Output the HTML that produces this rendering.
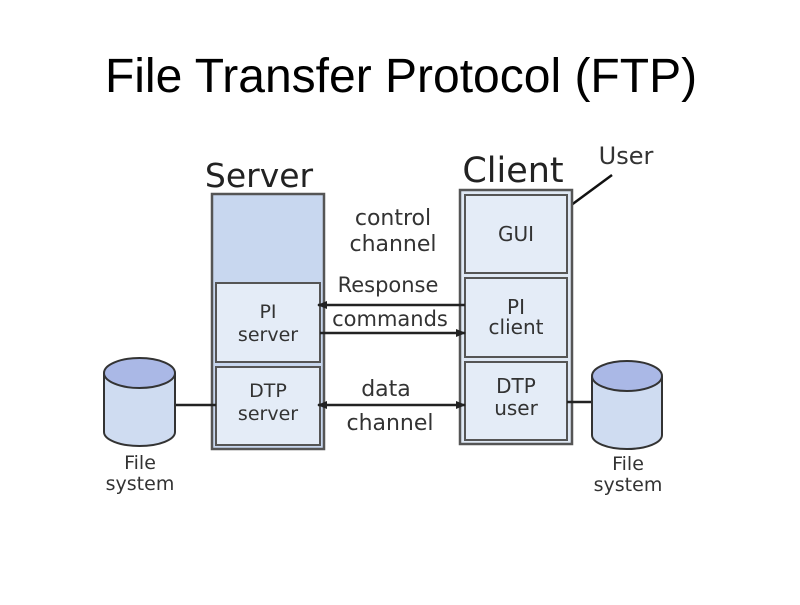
<!DOCTYPE html>
<html><head><meta charset="utf-8"><style>
body{margin:0;background:#fff;width:800px;height:600px;overflow:hidden}
</style></head><body>
<svg width="800" height="600" xmlns="http://www.w3.org/2000/svg" font-family="'DejaVu Sans','Liberation Sans',sans-serif">
<defs>
<marker id="a" markerWidth="10" markerHeight="8" refX="9" refY="4" orient="auto" markerUnits="userSpaceOnUse"><path d="M0,0 L10,4 L0,8 Z" fill="#222"/></marker>
<marker id="b" markerWidth="10" markerHeight="8" refX="1" refY="4" orient="auto" markerUnits="userSpaceOnUse"><path d="M10,0 L0,4 L10,8 Z" fill="#222"/></marker>
</defs>
<text x="401" y="92" text-anchor="middle" font-family="'Liberation Sans',sans-serif" font-size="48" fill="#000">File Transfer Protocol (FTP)</text>
<text x="259" y="187" text-anchor="middle" font-size="33" fill="#222">Server</text>
<text x="513" y="182" text-anchor="middle" font-size="35" fill="#222">Client</text>
<text x="626" y="164" text-anchor="middle" font-size="24" fill="#333">User</text>
<line x1="555" y1="217" x2="612" y2="175" stroke="#111" stroke-width="2.5"/>
<rect x="212" y="194" width="112" height="255" fill="#c8d7ef" stroke="#555" stroke-width="2.5"/>
<rect x="216" y="283" width="104" height="79" fill="#e4ecf7" stroke="#555" stroke-width="2"/>
<rect x="216" y="367" width="104" height="78" fill="#e4ecf7" stroke="#555" stroke-width="2"/>
<text x="268" y="318" text-anchor="middle" font-size="19" fill="#333">PI</text>
<text x="268" y="341" text-anchor="middle" font-size="19" fill="#333">server</text>
<text x="268" y="397" text-anchor="middle" font-size="19" fill="#333">DTP</text>
<text x="268" y="420" text-anchor="middle" font-size="19" fill="#333">server</text>
<rect x="460" y="190" width="112" height="254" fill="#dfe8f4" stroke="#555" stroke-width="2.5"/>
<rect x="465" y="195" width="102" height="78" fill="#e4ecf7" stroke="#555" stroke-width="2"/>
<rect x="465" y="278" width="102" height="79" fill="#e4ecf7" stroke="#555" stroke-width="2"/>
<rect x="465" y="362" width="102" height="78" fill="#e4ecf7" stroke="#555" stroke-width="2"/>
<text x="516" y="241" text-anchor="middle" font-size="20" fill="#333">GUI</text>
<text x="516" y="314" text-anchor="middle" font-size="20" fill="#333">PI</text>
<text x="516" y="334" text-anchor="middle" font-size="20" fill="#333">client</text>
<text x="516" y="393" text-anchor="middle" font-size="20" fill="#333">DTP</text>
<text x="516" y="415" text-anchor="middle" font-size="20" fill="#333">user</text>
<text x="393" y="225" text-anchor="middle" font-size="22" fill="#333">control</text>
<text x="393" y="251" text-anchor="middle" font-size="22" fill="#333">channel</text>
<text x="388" y="292" text-anchor="middle" font-size="21" fill="#333">Response</text>
<text x="390" y="326" text-anchor="middle" font-size="21" fill="#333">commands</text>
<text x="386" y="396" text-anchor="middle" font-size="22" fill="#333">data</text>
<text x="390" y="430" text-anchor="middle" font-size="22" fill="#333">channel</text>
<line x1="465" y1="305" x2="318" y2="305" stroke="#222" stroke-width="2.5" marker-end="url(#a)"/>
<line x1="320" y1="333" x2="465" y2="333" stroke="#222" stroke-width="2.5" marker-end="url(#a)"/>
<line x1="318" y1="405" x2="465" y2="405" stroke="#222" stroke-width="2.5" marker-start="url(#b)" marker-end="url(#a)"/>
<line x1="175" y1="405" x2="216" y2="405" stroke="#222" stroke-width="2.5"/>
<line x1="567" y1="402" x2="593" y2="402" stroke="#222" stroke-width="2.5"/>
<g stroke="#333" stroke-width="2">
<path d="M104,373 L104,432 A35.5,14 0 0 0 175,432 L175,373" fill="#cfdcf1"/>
<ellipse cx="139.5" cy="373" rx="35.5" ry="15" fill="#aab8e6"/>
<path d="M592,376 L592,435 A35,14 0 0 0 662,435 L662,376" fill="#cfdcf1"/>
<ellipse cx="627" cy="376" rx="35" ry="15" fill="#aab8e6"/>
</g>
<text x="140" y="469" text-anchor="middle" font-size="19" fill="#333">File</text>
<text x="140" y="490" text-anchor="middle" font-size="19" fill="#333">system</text>
<text x="628" y="470" text-anchor="middle" font-size="19" fill="#333">File</text>
<text x="628" y="491" text-anchor="middle" font-size="19" fill="#333">system</text>
</svg>
</body></html>
